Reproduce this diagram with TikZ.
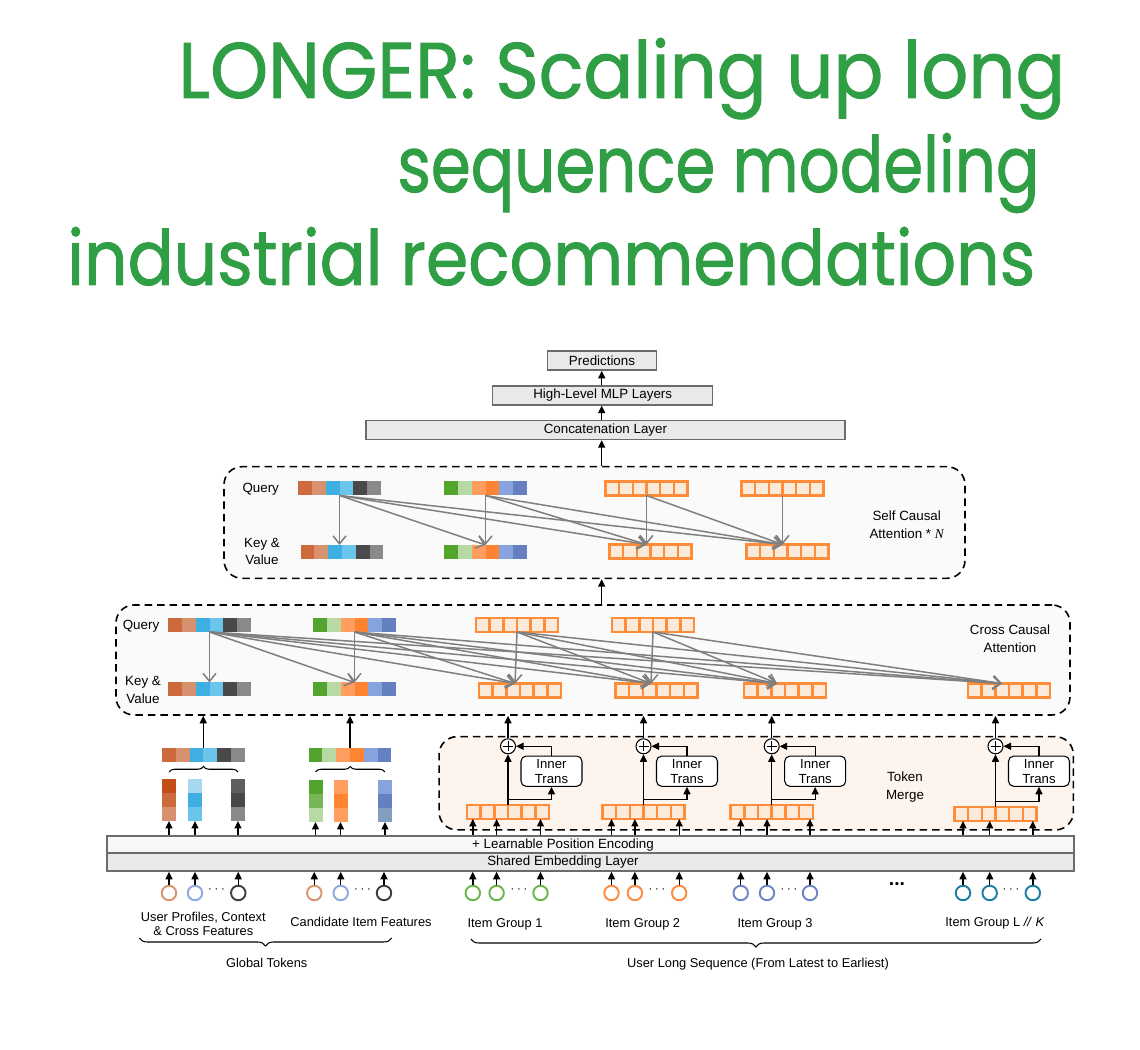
\documentclass[tikz,border=0pt]{standalone}
\usepackage{fontspec}
\setmainfont{Liberation Sans}
\newfontfamily\titlefont{Poppins}[FakeBold=1.2]
\newfontfamily\serifit{Liberation Serif}
\usetikzlibrary{arrows.meta,calc,decorations.pathreplacing}

\definecolor{titlegreen}{HTML}{2F9E44}
\definecolor{barline}{HTML}{6B6B6B}
\definecolor{barfill}{HTML}{E9E9E9}
\definecolor{barfillL}{HTML}{F7F7F7}
\definecolor{boxfill}{HTML}{FAFAFA}
\definecolor{mergefill}{HTML}{FDF4EE}
\definecolor{attgray}{HTML}{7F7F7F}
\definecolor{tokorange}{HTML}{FF8C38}
\definecolor{tokpeach}{HTML}{FBE9DA}
% palette A
\definecolor{cA1}{HTML}{CC6A3E}
\definecolor{cA2}{HTML}{D8916F}
\definecolor{cA3}{HTML}{3FAEE0}
\definecolor{cA4}{HTML}{6BC4EA}
\definecolor{cA5}{HTML}{494949}
\definecolor{cA6}{HTML}{898989}
% palette B
\definecolor{cB1}{HTML}{53A32F}
\definecolor{cB2}{HTML}{B7DAA5}
\definecolor{cB3}{HTML}{FF9E5E}
\definecolor{cB4}{HTML}{FF8432}
\definecolor{cB5}{HTML}{86A3DE}
\definecolor{cB6}{HTML}{6480C1}
% stack extras
\definecolor{sRust}{HTML}{C24F19}
\definecolor{sBlueL}{HTML}{A6D8F0}
\definecolor{sDark}{HTML}{5F5F5F}
\definecolor{sGreenM}{HTML}{76B656}
\definecolor{sSteel}{HTML}{82A0BE}
% circles
\definecolor{ciRust}{HTML}{DA946F}
\definecolor{ciPeri}{HTML}{8EA8E0}
\definecolor{ciDark}{HTML}{404040}
\definecolor{ciGreen}{HTML}{6AB64B}
\definecolor{ciOrange}{HTML}{FF8A3D}
\definecolor{ciBlue}{HTML}{6E85C8}
\definecolor{ciTeal}{HTML}{1B7FA3}

\def\u{0.02cm}
\def\palA{cA1,cA2,cA3,cA4,cA5,cA6}
\def\palB{cB1,cB2,cB3,cB4,cB5,cB6}

\newcommand\ctok[4]{%
  \node[ctokst] (#1) at (#2,#3) {};
  \foreach \cc [count=\ii from 0] in #4
    \fill[\cc] ($(#1.north west)+(\ii*13.8,0)$) rectangle ++(13.8,14);
}
\newcommand\otok[3]{%
  \node[otokst] (#1) at (#2,#3) {};
  \foreach \ii in {0,...,5}
    \draw[draw=tokorange, fill=tokpeach, line width=1.4pt] ($(#1.north west)+(\ii*13.7,0)$) rectangle ++(13.7,14);
}
\newcommand\stk[4]{%
  \node[stkst] (#1) at (#2,#3) {};
  \foreach \cc [count=\ii from 0] in #4
    \fill[\cc] ($(#1.north west)+(0,\ii*14)$) rectangle ++(14,14);
}

\begin{document}
\begin{tikzpicture}[x=0.02cm,y=-0.02cm,
  font=\fontsize{7.6}{9.2}\selectfont,
  layerbox/.style={draw=barline, fill=barfill, line width=0.9pt, inner sep=0, minimum height=19*\u},
  dbox/.style={draw=black, line width=0.9pt, dash pattern=on 1.5mm off 1mm, rounded corners=3.6mm, inner sep=0},
  arr/.style={draw=black, line width=0.8pt, -{Triangle[length=1.5mm,width=1.4mm]}},
  att/.style={draw=attgray, line width=0.85pt, -{Straight Barb[length=1.6mm,width=2.6mm]}},
  ctokst/.style={minimum width=82.8*\u, minimum height=14*\u, inner sep=0, outer sep=0},
  otokst/.style={minimum width=82.2*\u, minimum height=14*\u, inner sep=0, outer sep=0},
  stkst/.style={minimum width=14*\u, minimum height=42*\u, inner sep=0, outer sep=0},
  incirc/.style={circle, line width=1.1pt, fill=white, minimum size=14.5*\u, inner sep=0},
  oplusst/.style={circle, draw=black, line width=0.6pt, fill=white, minimum size=15*\u, inner sep=0,
     path picture={\draw[line width=0.5pt] ($(path picture bounding box.center)+(-5,0)$) -- ($(path picture bounding box.center)+(5,0)$)
        ($(path picture bounding box.center)+(0,-5)$) -- ($(path picture bounding box.center)+(0,5)$);}},
  itbox/.style={draw=black, line width=0.6pt, fill=white, rounded corners=3pt, minimum width=61*\u, minimum height=30.3*\u, inner sep=0, align=center, font=\fontsize{7.5}{8.7}\selectfont},
  brc/.style={draw=black, line width=0.6pt, decorate, decoration={brace, amplitude=#1}},
  lbl/.style={inner sep=0, align=center, font=\fontsize{7.6}{10.1}\selectfont},
  sublbl/.style={inner sep=0, align=center, font=\fontsize{7.3}{8.1}\selectfont},
  dotsst/.style={inner sep=0, font=\fontsize{7}{8}\selectfont}
]
\useasboundingbox (0,0) rectangle (1140,1050);

% ---------------- title ----------------
\node[anchor=base west, inner sep=0, text=titlegreen] (t1) at (178,98)
  {\resizebox{17.74cm}{1.2cm}{\titlefont LONGER: Scaling up long}};
\node[anchor=base west, inner sep=0, text=titlegreen] (t2) at (397,192)
  {\resizebox{12.84cm}{1.18cm}{\titlefont sequence modeling}};
\node[anchor=base west, inner sep=0, text=titlegreen] (t3) at (67,285)
  {\resizebox{19.36cm}{1.16cm}{\titlefont industrial recommendations}};

% ---------------- top layers ----------------
\node[layerbox, minimum width=109.4*\u] (pred) at (602,360.5) {Predictions};
\node[layerbox, minimum width=220*\u] (mlp) at (602.7,395.3) {High-Level MLP Layers};
\node[layerbox, minimum width=479.3*\u] (concat) at (605.4,429.8) {Concatenation Layer};

% ---------------- containers ----------------
\node[dbox, fill=boxfill, minimum width=741*\u, minimum height=111.6*\u] (selfbox) at (594.5,522.5) {};
\node[dbox, fill=boxfill, minimum width=954*\u, minimum height=110*\u] (crossbox) at (593,660) {};
\node[dbox, fill=mergefill, minimum width=634.3*\u, minimum height=93.3*\u] (mergebox) at (756.2,783.3) {};

\node[layerbox, fill=barfillL, minimum width=967*\u, minimum height=17*\u] (pebar) at (590.5,844.5) {};
\node[layerbox, fill=barfill, minimum width=967*\u, minimum height=18*\u] (sebar) at (590.5,862) {};
\node[inner sep=0] (petext) at (563,845) {+ Learnable Position Encoding};
\node[inner sep=0] (setext) at (563,862) {Shared Embedding Layer};

% ---------------- labels in containers ----------------
\node[lbl] (sq) at (260.7,489) {Query};
\node[lbl] (skv) at (262,551.5) {Key \&\\Value};
\node[lbl] (slab) at (906.7,525) {Self Causal\\Attention * {\serifit\itshape N}};
\node[lbl] (cq) at (141,626.7) {Query};
\node[lbl] (ckv) at (143,690) {Key \&\\Value};
\node[lbl] (clab) at (1010,639) {Cross Causal\\Attention};
\node[lbl] (mlab) at (905,787) {Token\\Merge};

% ---------------- self attention tokens ----------------
\ctok{SQ1}{339.5}{488.5}{\palA}
\ctok{SQ2}{485.5}{488.5}{\palB}
\otok{SQ3}{646.5}{488.5}
\otok{SQ4}{782.5}{488.5}
\ctok{SK1}{342}{552}{\palA}
\ctok{SK2}{485.5}{552}{\palB}
\otok{SK3}{650.5}{551.5}
\otok{SK4}{787.5}{551.5}

\foreach \i in {1,...,4}
  \foreach \j in {\i,...,4}
    \draw[att] (SQ\i.south) -- (SQ\j.south |- SK\j.north);

% ---------------- cross attention tokens ----------------
\ctok{CQ1}{209.5}{625}{\palA}
\ctok{CQ2}{354.5}{625}{\palB}
\otok{CQ3}{517}{625}
\otok{CQ4}{653}{625}
\ctok{CK1}{209.5}{689.5}{\palA}
\ctok{CK2}{354.5}{689.5}{\palB}
\otok{CK3}{520}{690.5}
\otok{CK4}{656.5}{690.5}
\otok{CK5}{785}{690.5}
\otok{CK6}{1009}{690.5}

\coordinate (CT1) at (CK1.north);
\coordinate (CT2) at (CK2.north);
\coordinate (CT3) at ($(CK3.north)+(-5,0)$);
\coordinate (CT4) at ($(CK4.north)+(-5.5,0)$);
\coordinate (CT5) at ($(CK5.north)+(-8,0)$);
\coordinate (CT6) at ($(CK6.north)+(-7,0)$);
\foreach \i in {1,...,4}
  \foreach \j in {\i,...,6}
    \draw[att] (CQ\i.south) -- (CT\j);

% ---------------- spine arrows ----------------
\coordinate (sp) at (601.7,0);
\draw[arr] (sp |- crossbox.north) -- (sp |- selfbox.south);
\draw[arr] (sp |- selfbox.north) -- (sp |- concat.south);
\draw[arr] (sp |- concat.north) -- (sp |- mlp.south);
\draw[arr] (sp |- mlp.north) -- (sp |- pred.south);

% ---------------- global tokens ----------------
\ctok{GT1}{203.3}{755}{\palA}
\ctok{GT2}{350}{755}{\palB}
\draw[arr] (GT1.north) -- (GT1.north |- crossbox.south);
\draw[arr] (GT2.north) -- (GT2.north |- crossbox.south);

\stk{S1}{169}{800}{{sRust,cA1,cA2}}
\stk{S2}{195}{800}{{sBlueL,cA3,cA4}}
\stk{S3}{238}{800}{{sDark,cA5,cA6}}
\stk{S4}{315.5}{801}{{cB1,sGreenM,cB2}}
\stk{S5}{340.5}{801}{{cB3,cB4,cB3}}
\stk{S6}{385}{801}{{cB5,cB6,sSteel}}

\draw[brc=1.1mm] ($(S1.north)+(0,-7)$) -- ($(S3.north)+(0,-7)$);
\draw[brc=1.1mm] ($(S4.north)+(0,-8)$) -- ($(S6.north)+(0,-8)$);

\foreach \s in {S1,S2,S3,S4,S5,S6}
  \draw[arr] (\s.south |- pebar.north) -- (\s.south);

% ---------------- input circles ----------------
\foreach \n/\x/\c in {ga/169/ciRust, gb/195/ciPeri, gc/238.3/ciDark,
                      ha/314.3/ciRust, hb/340.7/ciPeri, hc/384/ciDark,
                      ia/472.8/ciGreen, ib/496.6/ciGreen, ic/540.5/ciGreen,
                      ja/611.5/ciOrange, jb/634.9/ciOrange, jc/679.2/ciOrange,
                      ka/740.7/ciBlue, kb/767/ciBlue, kc/810/ciBlue,
                      la/963/ciTeal, lb/989.7/ciTeal, lc/1032.8/ciTeal}
{
  \node[incirc, draw=\c] (\n) at (\x,893) {};
  \draw[arr] (\n.north) -- (\n.north |- sebar.south);
}
\foreach \n/\x in {gd/216.5, hd/362.5, id/519, jd/657, kd/789, ld/1011}
  \node[dotsst] (\n) at (\x,890) {$\cdots$};
\node[inner sep=0, font=\fontsize{11}{12}\bfseries] (bigdots) at (897,884) {...};

% ---------------- token merge groups ----------------
\foreach \g/\X/\Y/\a/\b/\c in {A/508/812/ia/ib/ic, B/643.5/812/ja/jb/jc, C/771.7/812/ka/kb/kc, D/995.5/814/la/lb/lc}
{
  \otok{M\g}{\X}{\Y}
  \node[oplusst] (P\g) at (\X,746.3) {};
  \node[itbox] (IT\g) at (\X+43.5,771.2) {Inner\\Trans};
  \draw[arr] (M\g.north) -- (P\g.south);
  \draw[arr] ($(M\g.north)+(0,-5.6)$) -| (IT\g.south);
  \draw[arr] (IT\g.north) |- (P\g.east);
  \draw[arr] (P\g.north) -- (P\g.north |- crossbox.south);
  \draw[arr] (\a.north |- pebar.north) -- (\a.north |- M\g.south);
  \draw[arr] (\b.north |- pebar.north) -- (\b.north |- M\g.south);
  \draw[arr] (\c.north |- pebar.north) -- (\c.north |- M\g.south);
}

% ---------------- bottom labels ----------------
\node[sublbl] (lup) at (203.3,924) {User Profiles, Context\\\& Cross Features};
\node[sublbl] (lci) at (361,922.3) {Candidate Item Features};
\node[sublbl] (lg1) at (505,924.5) {Item Group 1};
\node[sublbl] (lg2) at (642.7,924.5) {Item Group 2};
\node[sublbl] (lg3) at (775,924.5) {Item Group 3};
\node[sublbl] (lgl) at (995,922.7) {Item Group L \textit{//} \textit{K}};

\draw[brc=1.6mm] (391.7,938) -- (139.3,938);
\draw[brc=1.6mm] (1041,939) -- (470.8,939);
\node[sublbl] (lgt) at (266.7,963.3) {Global Tokens};
\node[sublbl] (lus) at (758,964.3) {User Long Sequence (From Latest to Earliest)};

\end{tikzpicture}
\end{document}
